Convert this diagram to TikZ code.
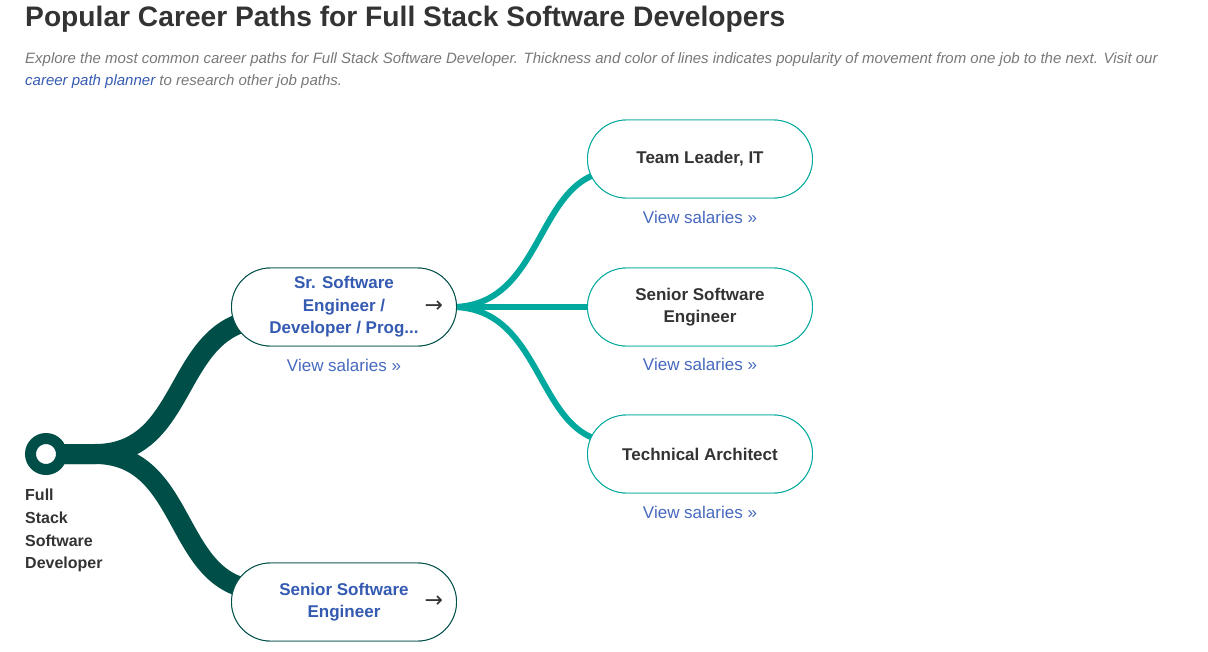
\documentclass[tikz,border=0pt]{standalone}
\usepackage{fontspec}
\setmainfont{Liberation Sans}
\newfontfamily\arrowfont{DejaVu Sans}
\usetikzlibrary{calc}
\definecolor{dkgreen}{RGB}{0,78,72}
\definecolor{teal2}{RGB}{0,168,157}
\definecolor{linkblue}{RGB}{52,90,178}
\definecolor{salblue}{RGB}{70,104,190}
\definecolor{darktext}{RGB}{51,51,51}
\definecolor{graytext}{RGB}{120,120,120}
\tikzset{
  pill/.style={draw, fill=white, rounded corners=39pt, minimum width=225pt, minimum height=78pt, inner sep=0pt, align=center, font=\fontsize{17}{22.5}\selectfont\bfseries},
  pilldark/.style={pill, draw=dkgreen, line width=0.9pt, text=linkblue},
  pillteal/.style={pill, draw=teal2, line width=0.9pt, text=darktext},
  salary/.style={text=salblue, font=\fontsize{17}{20}\selectfont, inner sep=0pt},
  goarrow/.style={text=darktext, font=\arrowfont\fontsize{22}{22}\selectfont, inner sep=0pt},
  thick1/.style={draw=dkgreen, line width=20pt},
  thick2/.style={draw=teal2, line width=6pt}
}
\begin{document}
\begin{tikzpicture}[x=1pt,y=-1pt]
\useasboundingbox (0,0) rectangle (1208,651);
\node[anchor=base west, inner sep=0pt, text=darktext, font=\fontsize{28.2}{32}\selectfont\bfseries] (title) at (25,26) {Popular Career Paths for Full Stack Software Developers};
\node[anchor=base west, inner sep=0pt, text=graytext, font=\fontsize{15}{18}\selectfont\itshape] (sub1) at (25,63) {Explore the most common career paths for Full Stack Software Developer. Thickness and color of lines indicates popularity of movement from one job to the next. Visit our};
\node[anchor=base west, inner sep=0pt, text=graytext, font=\fontsize{15}{18}\selectfont\itshape] (sub2) at (25,85) {\textcolor{linkblue}{career path planner} to research other job paths.};

\coordinate (start) at (46,454);
\node[pilldark] (sr) at (344,307) {Sr. Software\\Engineer /\\Developer / Prog...};
\node[pilldark] (sse) at (344,602) {Senior Software\\Engineer};
\node[pillteal] (tl) at (700,159) {Team Leader, IT};
\node[pillteal] (sse2) at (700,307) {Senior Software\\Engineer};
\node[pillteal] (ta) at (700,454) {Technical Architect};

% connectors
\path[thick1] (start) -- (95,454) .. controls (190,454) and (172,326) .. ([xshift=30pt,yshift=-12pt]sr.west);
\path[thick1] (start) -- (95,454) .. controls (190,454) and (172,588) .. ([xshift=30pt,yshift=12pt]sse.west);
\path[thick2] ([xshift=-4pt]sr.east) .. controls (545,306) and (535,176) .. ([xshift=25pt,yshift=-12pt]tl.west);
\path[thick2] ([xshift=-4pt]sr.east) -- (sse2.west);
\path[thick2] ([xshift=-4pt]sr.east) .. controls (545,308) and (535,438) .. ([xshift=25pt,yshift=12pt]ta.west);
\draw[dkgreen, line width=11pt, fill=white] (start) circle (15.5pt);

% nodes drawn again on top of the connectors
\node[pilldark] at (sr) {Sr. Software\\Engineer /\\Developer / Prog...};
\node[pilldark] at (sse) {Senior Software\\Engineer};
\node[pillteal] at (tl) {Team Leader, IT};
\node[pillteal] at (sse2) {Senior Software\\Engineer};
\node[pillteal] at (ta) {Technical Architect};

\node[goarrow] (a1) at ([xshift=-23pt]sr.east) {→};
\node[goarrow] (a2) at ([xshift=-23pt]sse.east) {→};

\node[salary] (v1) at (344,365) {View salaries »};
\node[salary] (v2) at (700,217) {View salaries »};
\node[salary] (v3) at (700,364) {View salaries »};
\node[salary] (v4) at (700,512) {View salaries »};

\node[anchor=north west, inner sep=0pt, align=left, text=darktext, font=\fontsize{16}{22.7}\selectfont\bfseries] (lbl) at (25,489) {Full\\Stack\\Software\\Developer};
\end{tikzpicture}
\end{document}
